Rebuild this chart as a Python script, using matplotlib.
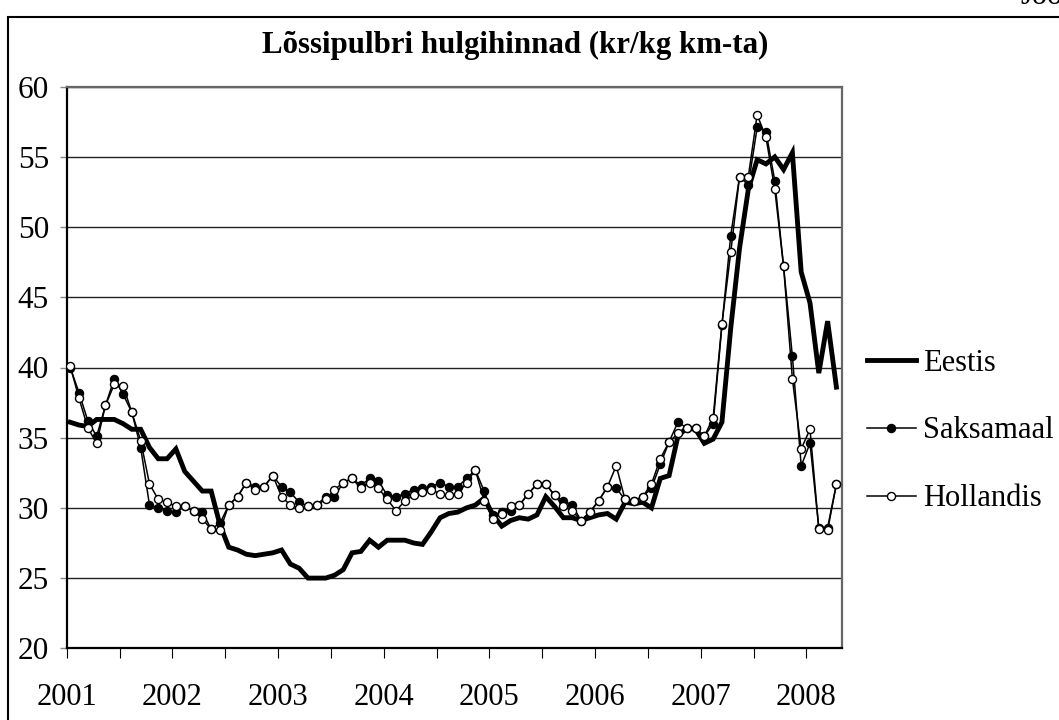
import matplotlib
matplotlib.use("Agg")
import matplotlib.pyplot as plt
from matplotlib.patches import Rectangle
import numpy as np

# monthly prices, Jan 2001 .. Apr 2008
start_year = 2001
eestis = [36.1, 35.9, 35.8, 36.3, 36.3, 36.3, 36.0, 35.6, 35.6, 34.3, 33.5, 33.5,
          34.2, 32.6, 31.9, 31.2, 31.2, 28.8, 27.2, 27.0, 26.7, 26.6, 26.7, 26.8,
          27.0, 26.0, 25.7, 25.0, 25.0, 25.0, 25.2, 25.6, 26.8, 26.9, 27.7, 27.2,
          27.7, 27.7, 27.7, 27.5, 27.4, 28.3, 29.3, 29.6, 29.7, 30.0, 30.2, 30.7,
          29.5, 28.7, 29.1, 29.3, 29.2, 29.5, 30.8, 30.1, 29.3, 29.3, 29.1, 29.3,
          29.5, 29.6, 29.2, 30.4, 30.3, 30.4, 30.0, 32.1, 32.3, 35.1, 35.7, 35.6,
          34.6, 34.9, 36.1, 42.8, 48.5, 52.7, 54.8, 54.5, 55.0, 54.1, 55.3, 46.8,
          44.6, 39.6, 43.3, 38.6]
saksamaal = [40.0, 38.2, 36.2, 35.1, 37.3, 39.2, 38.1, 36.8, 34.3, 30.2, 30.0, 29.8,
             29.7, 30.1, 29.8, 29.7, 28.5, 28.9, 30.2, 30.8, 31.8, 31.5, 31.5, 32.3,
             31.5, 31.1, 30.4, 30.1, 30.2, 30.8, 30.8, 31.8, 32.1, 31.6, 32.1, 31.9,
             30.9, 30.8, 31.0, 31.3, 31.4, 31.5, 31.8, 31.5, 31.5, 32.1, 32.7, 31.2,
             29.5, 29.7, 29.8, 30.2, 31.0, 31.7, 31.7, 30.9, 30.5, 30.2, 29.1, 29.7,
             30.5, 31.5, 31.4, 30.6, 30.5, 30.8, 31.4, 33.1, 34.7, 36.1, 35.7, 35.7,
             35.1, 36.0, 43.0, 49.4, 53.6, 53.0, 57.1, 56.8, 53.3, 47.2, 40.8, 33.0,
             34.6, 28.6, 28.6, 31.7]
hollandis = [40.1, 37.8, 35.7, 34.6, 37.3, 38.8, 38.7, 36.8, 34.8, 31.7, 30.6, 30.4,
             30.1, 30.1, 29.8, 29.2, 28.5, 28.4, 30.2, 30.8, 31.8, 31.3, 31.5, 32.3,
             30.8, 30.2, 30.0, 30.1, 30.2, 30.6, 31.3, 31.8, 32.1, 31.4, 31.8, 31.4,
             30.6, 29.8, 30.5, 30.9, 31.1, 31.3, 31.0, 30.9, 31.0, 31.8, 32.7, 30.5,
             29.2, 29.6, 30.1, 30.2, 31.0, 31.7, 31.7, 30.9, 30.1, 29.8, 29.1, 29.7,
             30.5, 31.5, 33.0, 30.6, 30.5, 30.8, 31.7, 33.5, 34.7, 35.3, 35.7, 35.7,
             35.1, 36.4, 43.1, 48.2, 53.6, 53.6, 58.0, 56.4, 52.7, 47.2, 39.2, 34.2,
             35.6, 28.5, 28.4, 31.7]
years = [str(y) for y in range(2001, 2009)]

plt.rcParams["font.family"] = ["Liberation Serif", "DejaVu Serif"]

fig = plt.figure(figsize=(10.59, 7.2), dpi=100)
ax = fig.add_axes([66.7 / 1059, 1 - 648.3 / 720, 775 / 1059, 561.6 / 720])

# points sit in the middle of each month
x = np.arange(len(eestis)) + 0.4

ax.plot(x, eestis, color="black", lw=3.5, solid_joinstyle="miter", label="Eestis", zorder=3)
ax.plot(x, saksamaal, color="black", lw=1.1, marker="o", ms=5.8, mfc="black",
        mec="black", mew=1.0, label="Saksamaal", zorder=4)
ax.plot(x, hollandis, color="black", lw=1.1, marker="o", ms=5.8, mfc="white",
        mec="black", mew=1.0, label="Hollandis", zorder=5)

ax.set_xlim(0, 88)
ax.set_ylim(20, 60)
ax.set_yticks(range(20, 61, 5))
ax.yaxis.grid(True, color="#222222", lw=1.0)
ax.set_axisbelow(True)

ax.set_xticks(range(0, 85, 6))
ax.set_xticklabels([years[m // 12] if m % 12 == 0 else "" for m in range(0, 85, 6)])

ax.tick_params(axis="x", direction="out", length=7, width=0.8, color="black",
               pad=18, labelsize=22)
ax.tick_params(axis="y", direction="out", length=4.8, width=1.0, color="#888888",
               pad=8, labelsize=22.5)

for side in ("left", "bottom"):
    ax.spines[side].set_color("black")
    ax.spines[side].set_linewidth(1.6)
for side in ("top", "right"):
    ax.spines[side].set_color("#666666")
    ax.spines[side].set_linewidth(1.6)

fig.text(515 / 1059, 1 - 45 / 720, "Lõssipulbri hulgihinnad (kr/kg km-ta)",
         ha="center", va="center", fontsize=22.2, fontweight="bold")

fig.legend(loc="center left", bbox_to_anchor=(866.7 / 1059, 1 - 431 / 720),
           frameon=False, fontsize=22, handlelength=1.6, handletextpad=0.25,
           labelspacing=1.27, borderpad=0, borderaxespad=0)

# outer chart frame, cut by the canvas on the right and bottom
fig.patches.append(Rectangle((8 / 1059, -0.1), 1.2, 1.1 - 17 / 720,
                             transform=fig.transFigure, fill=False,
                             edgecolor="black", lw=1.5))
fig.text(1020 / 1059, 1 - 4.5 / 720, "Joo", ha="left", va="baseline", fontsize=22)

fig.savefig("out.png", dpi=100)
